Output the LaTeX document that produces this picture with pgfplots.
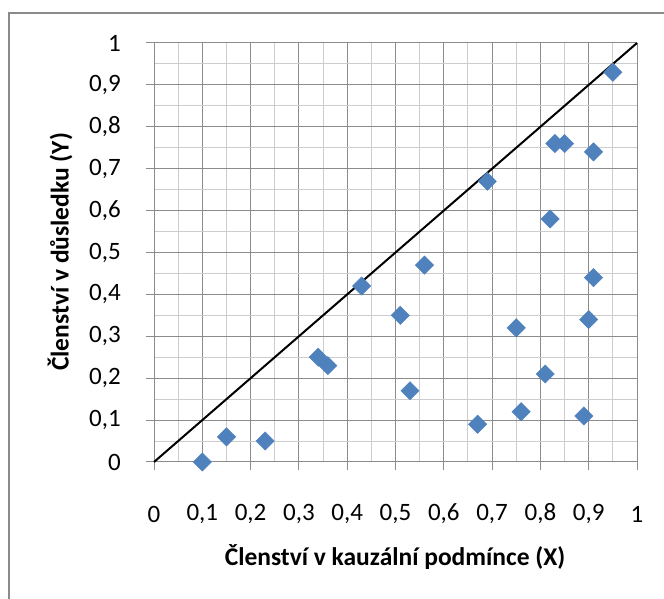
\documentclass[border=0pt]{standalone}
\usepackage{fontspec}
\setmainfont{Carlito}
\usepackage{pgfplots}
\pgfplotsset{compat=1.18}
\definecolor{ptblue}{HTML}{4F81BD}
\definecolor{majgrid}{HTML}{8C8C8C}
\definecolor{mingrid}{HTML}{CDCDCD}
\definecolor{framegray}{HTML}{8A8A8A}
\begin{document}
\begin{tikzpicture}[x=1pt,y=1pt]
\useasboundingbox (0,0) rectangle (664,599);
\draw[color=framegray, line width=2pt] (9,0) -- (9,586) -- (664,586);
\begin{axis}[
  at={(154pt,137pt)}, anchor=south west,
  width=483pt, height=419pt, scale only axis,
  xmin=0, xmax=1, ymin=0, ymax=1,
  axis x line=bottom, axis y line=left,
  axis line style={-, color=majgrid, line width=1pt},
  xtick={0,0.1,0.2,0.3,0.4,0.5,0.6,0.7,0.8,0.9,1},
  ytick={0,0.1,0.2,0.3,0.4,0.5,0.6,0.7,0.8,0.9,1},
  xticklabels={0,{0,1},{0,2},{0,3},{0,4},{0,5},{0,6},{0,7},{0,8},{0,9},1},
  yticklabels={0,{0,1},{0,2},{0,3},{0,4},{0,5},{0,6},{0,7},{0,8},{0,9},1},
  minor xtick={0.05,0.15,0.25,0.35,0.45,0.55,0.65,0.75,0.85,0.95},
  minor ytick={0.05,0.15,0.25,0.35,0.45,0.55,0.65,0.75,0.85,0.95},
  grid=both,
  major grid style={color=majgrid, line width=1pt},
  minor grid style={color=mingrid, line width=1pt},
  tick style={color=majgrid, line width=1pt},
  major tick length=8pt, minor tick length=0pt,
  tick align=outside,
  xticklabel style={font=\fontsize{25}{28}\selectfont, anchor=center, inner sep=0pt, yshift=-44pt},
  yticklabel style={font=\fontsize{25}{28}\selectfont, anchor=east, inner sep=0pt, xshift=-25pt},
  clip=false,
]
\addplot[black, line width=2pt] coordinates {(0,0) (1,1)};
\addplot[only marks, mark=square*, mark size=6.5pt, mark options={rotate=45, fill=ptblue, draw=ptblue}] coordinates {
(0.10,0.00) (0.15,0.06) (0.23,0.05) (0.34,0.25) (0.36,0.23) (0.43,0.42)
(0.51,0.35) (0.53,0.17) (0.56,0.47) (0.67,0.09) (0.69,0.67) (0.75,0.32)
(0.76,0.12) (0.81,0.21) (0.82,0.58) (0.83,0.76) (0.85,0.76) (0.89,0.11)
(0.90,0.34) (0.91,0.44) (0.91,0.74) (0.95,0.93)
};
\end{axis}
\node[font=\fontsize{25.5}{28}\selectfont\bfseries] at (395,42) {Členství v kauzální podmínce (X)};
\node[font=\fontsize{25.5}{28}\selectfont\bfseries, rotate=90] at (60,347) {Členství v důsledku (Y)};
\end{tikzpicture}
\end{document}
